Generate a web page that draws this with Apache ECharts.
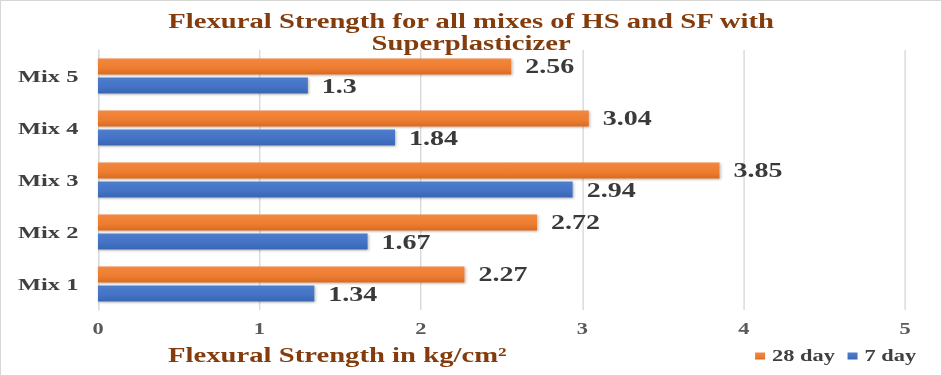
<!DOCTYPE html>
<html>
<head>
<meta charset="utf-8">
<script src="https://cdn.jsdelivr.net/npm/echarts@6/dist/echarts.min.js"></script>
<style>
html,body{margin:0;padding:0;background:#fff;}
#wrap{position:relative;width:942px;height:376px;box-sizing:border-box;border:1px solid #d6d6d6;overflow:hidden;}
#c{position:absolute;left:-1px;top:-1px;height:376px;transform-origin:0 0;}
</style>
</head>
<body>
<div id="wrap"><div id="c"></div></div>
<script>
const categories = ['Mix 1', 'Mix 2', 'Mix 3', 'Mix 4', 'Mix 5'];
const day7 = [1.34, 1.67, 2.94, 1.84, 1.3];
const day28 = [2.27, 2.72, 3.85, 3.04, 2.56];
const xTicks = [0, 1, 2, 3, 4, 5];

// The reference chart is stretched horizontally; draw narrower and stretch.
const S = 1.4;
const W = 942 / S;
const el = document.getElementById('c');
el.style.width = W + 'px';
el.style.transform = 'scaleX(' + S + ')';

const FONT = '"Liberation Serif", "Times New Roman", serif';
const chart = echarts.init(el, null, {renderer: 'svg'});
function grad(top, mid, bot) {
  return new echarts.graphic.LinearGradient(0, 0, 0, 1, [
    {offset: 0, color: top}, {offset: 0.6, color: mid}, {offset: 1, color: bot}
  ]);
}
const labelStyle = {
  show: true, position: 'right', distance: 10,
  fontFamily: FONT, fontWeight: 'bold', fontSize: 20, color: '#3a3a3a'
};
chart.setOption({
  animation: false,
  title: [{
    text: 'Flexural Strength for all mixes of HS and SF with\nSuperplasticizer',
    left: 'center', top: 10, padding: 0,
    textStyle: {fontFamily: FONT, fontWeight: 'bold', fontSize: 20.5, color: '#843C0C', lineHeight: 22}
  }, {
    text: 'Flexural Strength in kg/cm²',
    left: 168 / S, top: 345, padding: 0,
    textStyle: {fontFamily: FONT, fontWeight: 'bold', fontSize: 20.5, color: '#843C0C'}
  }],
  legend: {
    data: ['28 day', '7 day'],
    right: 26 / S, top: 348, padding: 0,
    icon: 'rect', itemWidth: 10 / S, itemHeight: 7, itemGap: 9,
    textStyle: {fontFamily: FONT, fontWeight: 'bold', fontSize: 16, color: '#404040'}
  },
  grid: {left: 98 / S, right: 37 / S, top: 50, bottom: 66, containLabel: false},
  xAxis: {
    type: 'value', min: xTicks[0], max: xTicks[xTicks.length - 1], interval: 1,
    axisLine: {show: false}, axisTick: {show: false},
    splitLine: {lineStyle: {color: '#d9d9d9', width: 1}},
    axisLabel: {fontFamily: FONT, fontWeight: 'bold', fontSize: 16, color: '#595959', margin: 11}
  },
  yAxis: {
    type: 'category', data: categories,
    axisLine: {show: true, lineStyle: {color: '#d9d9d9'}}, axisTick: {show: false},
    axisLabel: {fontFamily: FONT, fontWeight: 'bold', fontSize: 17.5, color: '#404040', margin: 14}
  },
  series: [{
    name: '28 day', type: 'bar', data: day28,
    barWidth: 16, barGap: '19%',
    itemStyle: {color: grad('#f2883f', '#ED7D31', '#d76b22'), shadowColor: 'rgba(0,0,0,0.3)', shadowBlur: 2, shadowOffsetY: 1, shadowOffsetX: 0.7},
    label: labelStyle
  }, {
    name: '7 day', type: 'bar', data: day7,
    barWidth: 16, barGap: '19%',
    itemStyle: {color: grad('#4f7dcd', '#4472C4', '#3965b3'), shadowColor: 'rgba(0,0,0,0.3)', shadowBlur: 2, shadowOffsetY: 1, shadowOffsetX: 0.7},
    label: labelStyle
  }]
});
</script>
</body>
</html>
